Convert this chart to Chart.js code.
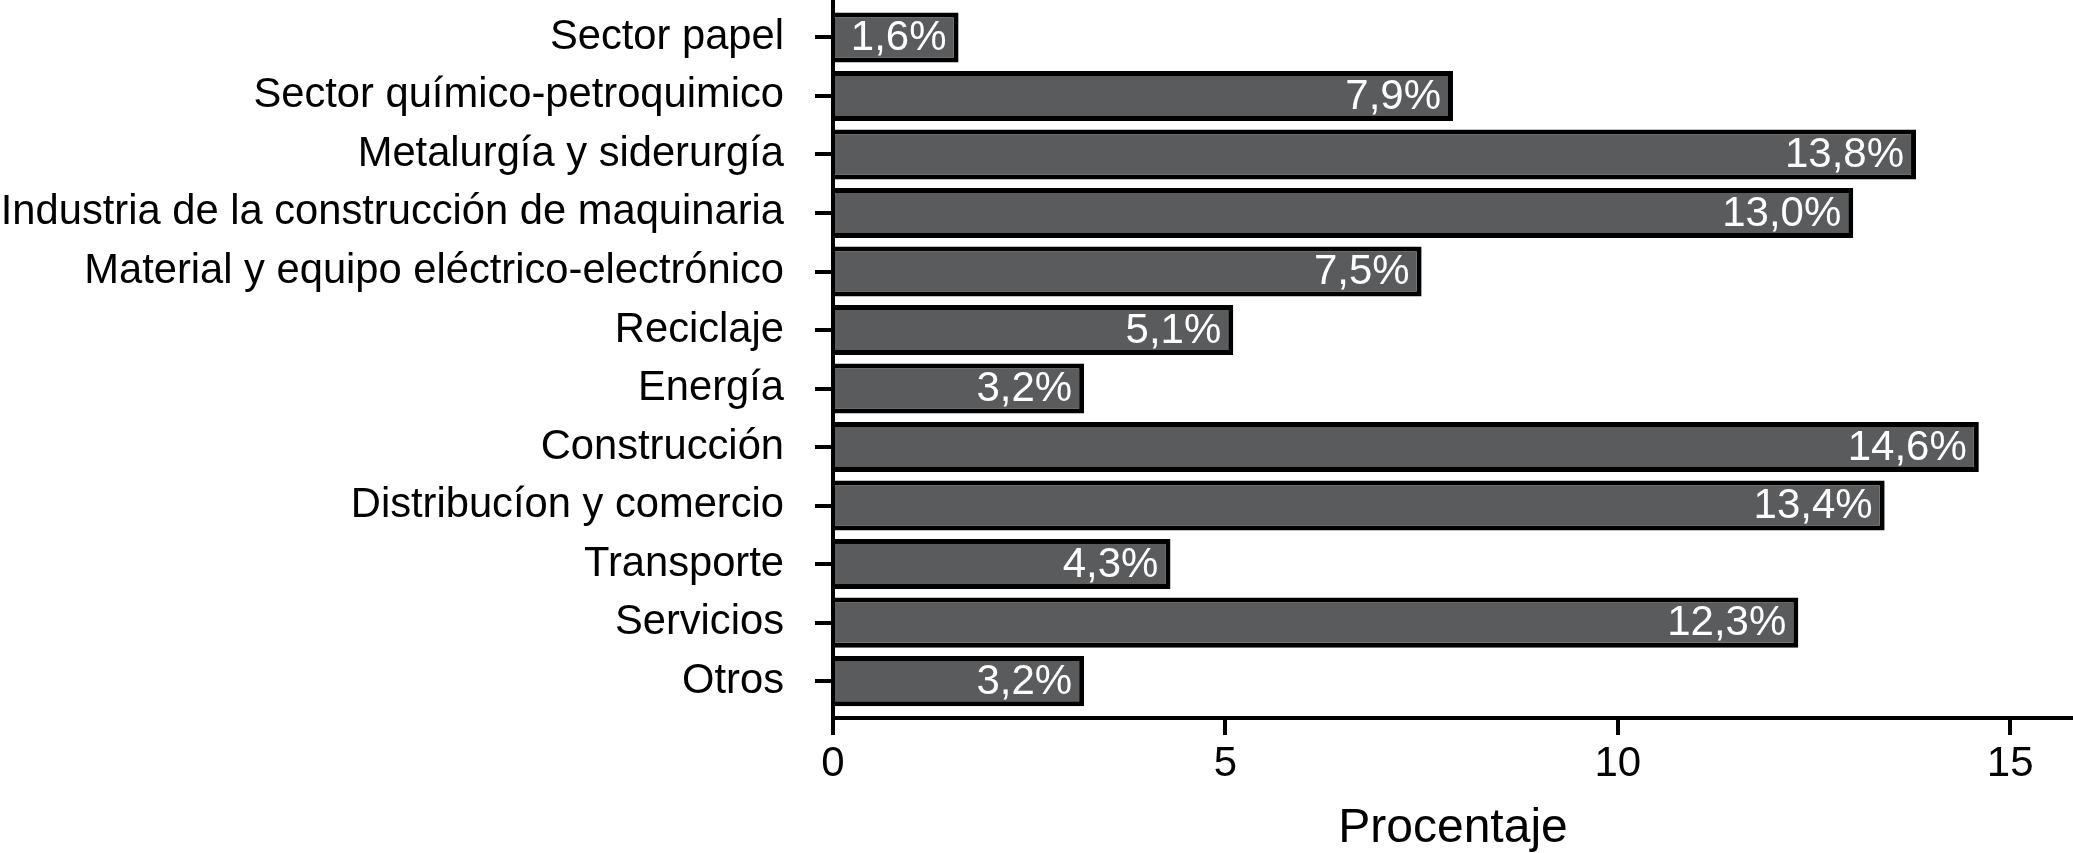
<!DOCTYPE html>
<html>
<head>
<meta charset="utf-8">
<script src="https://cdn.jsdelivr.net/npm/chart.js@4.4.1/dist/chart.umd.min.js"></script>
<style>
  html, body { margin: 0; padding: 0; background: #ffffff; }
  #wrap { width: 2073px; height: 853px; position: relative; }
</style>
</head>
<body>
<div id="wrap"><canvas id="c" width="2073" height="853"></canvas></div>
<script>
const categories = [
  "Sector papel",
  "Sector químico-petroquimico",
  "Metalurgía y siderurgía",
  "Industria de la construcción de maquinaria",
  "Material y equipo eléctrico-electrónico",
  "Reciclaje",
  "Energía",
  "Construcción",
  "Distribucíon y comercio",
  "Transporte",
  "Servicios",
  "Otros"
];
const percentages = [1.6, 7.9, 13.8, 13.0, 7.5, 5.1, 3.2, 14.6, 13.4, 4.3, 12.3, 3.2];
const xTickValues = [0, 5, 10, 15];
const xAxisTitle = "Procentaje";

const FONT = "'Liberation Sans', Arial, Helvetica, sans-serif";

const barLabels = {
  id: 'barLabels',
  afterDatasetsDraw(chart) {
    const ctx = chart.ctx;
    const meta = chart.getDatasetMeta(0);
    ctx.save();
    ctx.fillStyle = '#ffffff';
    ctx.font = "42px " + FONT;
    ctx.textAlign = 'right';
    ctx.textBaseline = 'middle';
    meta.data.forEach((el, i) => {
      const txt = percentages[i].toFixed(1).replace('.', ',') + '%';
      ctx.fillText(txt, el.x - 12, el.y + 1);
    });
    ctx.restore();
  }
};

new Chart(document.getElementById('c'), {
  type: 'bar',
  data: {
    datasets: [{
      data: percentages.map((v, i) => ({ x: v, y: i })),
      backgroundColor: '#5a5b5d',
      borderColor: '#000000',
      borderWidth: 5,
      barPercentage: 0.855,
      categoryPercentage: 1.0
    }]
  },
  options: {
    indexAxis: 'y',
    responsive: false,
    animation: false,
    devicePixelRatio: 1,
    layout: { padding: 0 },
    plugins: { legend: { display: false }, tooltip: { enabled: false } },
    scales: {
      y: {
        type: 'linear',
        reverse: true,
        offset: false,
        min: -0.64,
        max: 11.63,
        afterBuildTicks: s => { s.ticks = categories.map((_, i) => ({ value: i })); },
        afterFit: s => { s.width = 833; s.paddingTop = 0; s.paddingBottom = 0; },
        grid: { offset: false, drawOnChartArea: false, tickLength: 18, color: '#000', lineWidth: 4 },
        border: { color: '#000', width: 4 },
        ticks: {
          padding: 31,
          color: '#000',
          font: { family: FONT, size: 41.7 },
          callback: v => categories[v]
        }
      },
      x: {
        type: 'linear',
        min: 0,
        max: 15.8,
        afterBuildTicks: s => { s.ticks = xTickValues.map(v => ({ value: v })); },
        afterFit: s => { s.height = 135; },
        grid: { drawOnChartArea: false, tickLength: 17, color: '#000', lineWidth: 4 },
        border: { color: '#000', width: 4 },
        ticks: {
          padding: 4,
          color: '#000',
          font: { family: FONT, size: 42 },
          maxRotation: 0
        },
        title: {
          display: true,
          text: xAxisTitle,
          color: '#000',
          font: { family: FONT, size: 48, lineHeight: 1.0 },
          padding: { top: 0, bottom: 0 }
        }
      }
    }
  },
  plugins: [barLabels]
});
</script>
</body>
</html>
